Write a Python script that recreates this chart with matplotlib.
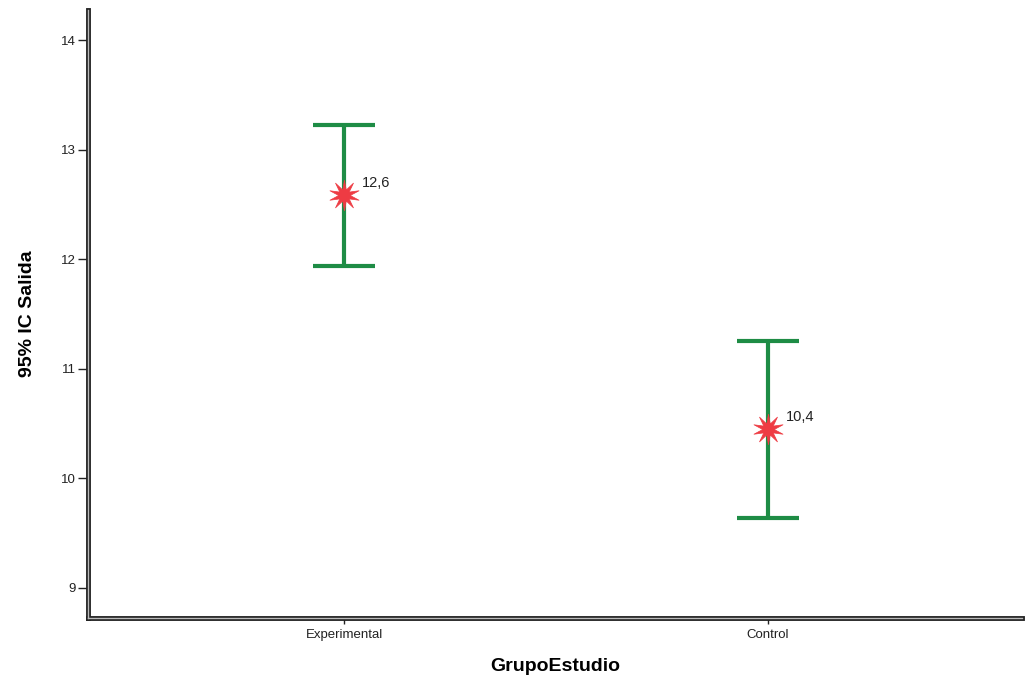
import matplotlib.pyplot as plt
import numpy as np
from matplotlib.path import Path

# SPSS-style 95% CI error bar chart
groups = ["Experimental", "Control"]
means = [12.586, 10.451]
lower = [11.938, 9.639]
upper = [13.224, 11.254]
labels = ["12,6", "10,4"]

plt.rcParams["font.family"] = ["Liberation Sans", "DejaVu Sans"]

# spiky star marker like the SPSS one
n_spikes = 10
ang = np.linspace(0, 2 * np.pi, 2 * n_spikes, endpoint=False) + np.pi / 2
rad = np.where(np.arange(2 * n_spikes) % 2 == 0, 1.0, 0.38)
verts = np.column_stack([rad * np.cos(ang), rad * np.sin(ang)])
verts = np.vstack([verts, verts[:1]])
star = Path(verts, closed=True)

fig = plt.figure(figsize=(10.26, 6.88), dpi=100)
ax = fig.add_axes([88 / 1026, 70 / 688, 934 / 1026, 608 / 688])

x = np.arange(len(groups))
m = np.array(means)
err = np.array([m - np.array(lower), np.array(upper) - m])

ax.errorbar(x, m, yerr=err, fmt="none", ecolor="#1e8c45", elinewidth=3,
            capsize=22, capthick=3, zorder=2)
ax.plot(x, m, linestyle="none", marker=star, markersize=22,
        color="#ee3b43", markeredgecolor="#ee3b43", markeredgewidth=0.5,
        zorder=3)
for xi, mi, lab in zip(x, m, labels):
    ax.annotate(lab, (xi, mi), xytext=(13, 6), textcoords="offset points",
                fontsize=10.5, color="#222222")

ax.set_xlim(-0.604, 1.599)
ax.set_ylim(8.726, 14.274)
ax.set_yticks([9, 10, 11, 12, 13, 14])
ax.set_xticks(x)
ax.set_xticklabels(groups)
ax.tick_params(axis="both", labelsize=9.5, width=1, color="#222222",
               labelcolor="#222222")
ax.tick_params(axis="y", length=7, pad=2)
ax.tick_params(axis="x", length=4, pad=4)

for side in ["top", "right"]:
    ax.spines[side].set_visible(False)
for side in ["left", "bottom"]:
    ax.spines[side].set_linewidth(3.5)
    ax.spines[side].set_color("#222222")
# light middle stroke to give the double-line look
ax.plot([0, 0], [0, 1], transform=ax.transAxes, color="#bbbbbb", lw=1,
        clip_on=False, zorder=5)
ax.plot([0, 1], [0, 0], transform=ax.transAxes, color="#bbbbbb", lw=1,
        clip_on=False, zorder=5)

ax.set_ylabel("95% IC Salida", fontsize=14, fontweight="bold", labelpad=18)
ax.set_xlabel("GrupoEstudio", fontsize=14, fontweight="bold", labelpad=12)

fig.savefig("out.png", dpi=100)
